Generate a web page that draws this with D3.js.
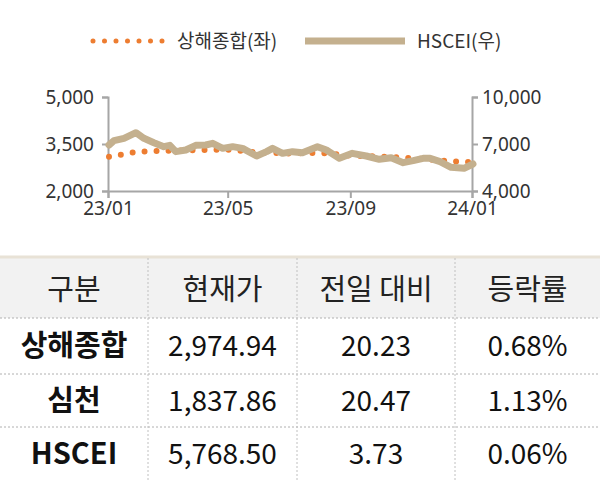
<!DOCTYPE html><html><head><meta charset="utf-8"><script src="https://cdn.jsdelivr.net/npm/d3@7"></script>
<style>body{margin:0;background:#fff}svg{font-family:"Noto Sans CJK KR","Noto Sans",sans-serif}</style></head><body><svg id="c" width="600" height="480"></svg>
<script>
const hsDates=["2023-01-02","2023-01-07","2023-01-17","2023-01-29","2023-02-06","2023-02-16","2023-02-26","2023-03-04","2023-03-10","2023-03-20","2023-03-30","2023-04-09","2023-04-16","2023-04-26","2023-05-06","2023-05-16","2023-05-30","2023-06-09","2023-06-15","2023-06-25","2023-07-05","2023-07-15","2023-07-30","2023-08-08","2023-08-21","2023-09-03","2023-09-17","2023-09-30","2023-10-12","2023-10-24","2023-11-03","2023-11-13","2023-11-20","2023-11-30","2023-12-11","2023-12-24","2024-01-02"];
const hsValues=[6936,7213,7362,7723,7362,7085,6830,6915,6511,6617,6915,6936,7043,6723,6830,6723,6234,6511,6723,6404,6511,6447,6830,6617,6085,6404,6234,6021,6128,5809,5936,6085,6085,5872,5511,5447,5723];
const shDates=["2023-01-02","2023-02-01","2023-03-01","2023-04-01","2023-05-01","2023-06-01","2023-07-01","2023-08-01","2023-09-01","2023-10-01","2023-11-01","2023-12-01","2024-01-02"];
const shValues=[3095,3260,3280,3300,3320,3230,3200,3220,3130,3100,3050,2970,2916];
const leftTicks=[2000,3500,5000], rightTicks=[4000,7000,10000];
const xTicks=["2023-01-01","2023-05-01","2023-09-01","2024-01-01"];
const tableHead=["구분","현재가","전일 대비","등락률"];
const rowNames=["상해종합","심천","HSCEI"];
const curPrice=["2,974.94","1,837.86","5,768.50"];
const change=["20.23","20.47","3.73"];
const rate=["0.68%","1.13%","0.06%"];

const svg=d3.select("#c"),p=d3.timeParse("%Y-%m-%d");
const x=d3.scaleTime().domain([p("2023-01-01"),p("2024-01-01")]).range([108,472]);
const yl=d3.scaleLinear().domain([2000,5000]).range([191,97]);
const yr=d3.scaleLinear().domain([4000,10000]).range([191,97]);
const ac="#a6a6a6";
const fmt=d3.format(",");
function styleAx(g){g.selectAll("path,line").attr("stroke",ac).attr("stroke-width",2);g.selectAll("text").attr("fill","#333").attr("font-size",19).attr("font-family","Noto Sans, sans-serif");}
svg.append("g").attr("transform","translate(108,0)").call(d3.axisLeft(yl).tickValues(leftTicks).tickFormat(fmt).tickSizeOuter(0).tickSize(6)).call(styleAx).call(g=>g.selectAll("text").attr("x",-14));
svg.append("g").attr("transform","translate(472,0)").call(d3.axisRight(yr).tickValues(rightTicks).tickFormat(fmt).tickSizeOuter(0).tickSize(6)).call(styleAx).call(g=>g.selectAll("text").attr("x",10));
svg.append("g").attr("transform","translate(0,191)").call(d3.axisBottom(x).tickValues(xTicks.map(p)).tickFormat(d3.timeFormat("%y/%m")).tickSizeOuter(0).tickSize(7)).call(styleAx).call(g=>g.selectAll("text").attr("y",11));
const orange="#ED7D31",tan="#C4B08E";
svg.append("path").datum(shDates.map((d,i)=>[p(d),shValues[i]])).attr("fill","none").attr("stroke",orange).attr("stroke-width",6).attr("stroke-linecap","round").attr("stroke-dasharray","0 12")
 .attr("d",d3.line().x(d=>x(d[0])).y(d=>yl(d[1])));
svg.append("path").datum(hsDates.map((d,i)=>[p(d),hsValues[i]])).attr("fill","none").attr("stroke",tan).attr("stroke-width",7).attr("stroke-linejoin","round").attr("stroke-linecap","round")
 .attr("d",d3.line().x(d=>x(d[0])).y(d=>yr(d[1])));
// legend
svg.append("line").attr("x1",93).attr("x2",163).attr("y1",41).attr("y2",41).attr("stroke",orange).attr("stroke-width",5).attr("stroke-linecap","round").attr("stroke-dasharray","0 11.5");
svg.append("text").attr("x",177).attr("y",48).attr("font-size",19).attr("fill","#333").text("상해종합(좌)");
svg.append("line").attr("x1",305).attr("x2",405).attr("y1",41).attr("y2",41).attr("stroke",tan).attr("stroke-width",7);
svg.append("text").attr("x",417).attr("y",48).attr("font-size",19).attr("fill","#333").text("HSCEI(우)");
// table
const colX=[0,148,297,455,600], rowY=[258,318,374,427,480];
svg.append("rect").attr("x",0).attr("y",258).attr("width",600).attr("height",60).attr("fill","#f2f2f2");
svg.append("line").attr("x1",0).attr("x2",600).attr("y1",257).attr("y2",257).attr("stroke","#e8e2d6").attr("stroke-width",3);
[1,2,3].forEach(i=>svg.append("line").attr("x1",0).attr("x2",600).attr("y1",rowY[i]).attr("y2",rowY[i]).attr("stroke","#b0b0b0").attr("stroke-dasharray","2 2"));
[1,2,3].forEach(i=>svg.append("line").attr("x1",colX[i]).attr("x2",colX[i]).attr("y1",258).attr("y2",480).attr("stroke","#c0c0c0").attr("stroke-dasharray","2 2"));
const cx=i=>(colX[i]+colX[i+1])/2;
tableHead.forEach((t,i)=>svg.append("text").attr("x",cx(i)).attr("y",300).attr("text-anchor","middle").attr("font-size",29).attr("fill","#222").text(t));
rowNames.forEach((n,r)=>{const y=(rowY[r+1]+rowY[r+2])/2+10;
 [n,curPrice[r],change[r],rate[r]].forEach((t,i)=>svg.append("text").attr("x",cx(i)).attr("y",y).attr("text-anchor","middle").attr("font-size",i?28:29).attr("font-weight",i?400:700).attr("textLength",null).attr("fill","#111").attr("transform",null).text(t));});
</script></body></html>
